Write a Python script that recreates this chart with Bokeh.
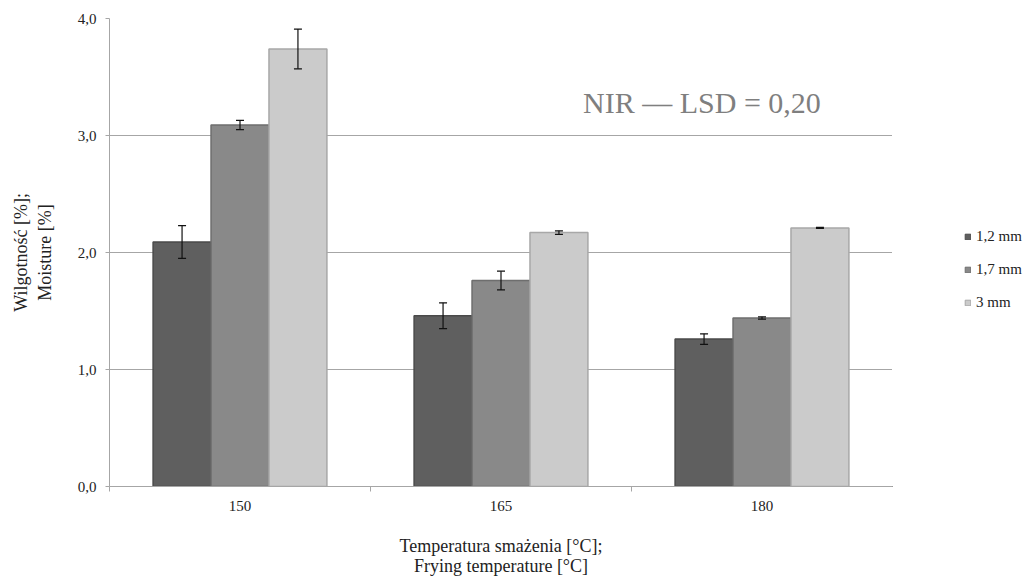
from bokeh.plotting import figure
from bokeh.layouts import row
from bokeh.models import (ColumnDataSource, Range1d, FixedTicker, Whisker, Label,
                          Legend, LegendItem)
from bokeh.transform import dodge
from bokeh.embed import file_html
from bokeh.resources import INLINE

categories = ["150", "165", "180"]
series_names = ["1,2 mm", "1,7 mm", "3 mm"]
v_12 = [2.09, 1.46, 1.26]
v_17 = [3.09, 1.76, 1.44]
v_3 = [3.74, 2.17, 2.21]
e_12 = [0.14, 0.11, 0.045]
e_17 = [0.04, 0.08, 0.01]
e_3 = [0.17, 0.015, 0.005]
y_ticks = [0, 1, 2, 3, 4]
y_tick_labels = ["0,0", "1,0", "2,0", "3,0", "4,0"]
annotation = "NIR \u2014 LSD = 0,20"

colors = ["#5f5f5f", "#898989", "#cbcbcb"]
edges = ["#4a4a4a", "#6e6e6e", "#a8a8a8"]
FONT = "Liberation Serif"

xc = [i + 0.5 for i in range(len(categories))]
data = dict(x=xc)
for k, (v, e) in enumerate([(v_12, e_12), (v_17, e_17), (v_3, e_3)]):
    data[f"v{k}"] = v
    data[f"lo{k}"] = [a - b for a, b in zip(v, e)]
    data[f"hi{k}"] = [a + b for a, b in zip(v, e)]
src = ColumnDataSource(data)

p = figure(frame_width=783, frame_height=468, output_backend="svg",
           toolbar_location=None,
           x_range=Range1d(0, len(categories)), y_range=Range1d(0, 4),
           min_border_left=109, min_border_right=0, min_border_top=18,
           min_border_bottom=92)
p.outline_line_color = None
p.background_fill_color = "white"
p.border_fill_color = "white"

bw = 0.222
offsets = [-bw, 0.0, bw]
for k in range(3):
    p.vbar(x=dodge("x", offsets[k], range=p.x_range), top=f"v{k}", width=bw,
           bottom=0, source=src, fill_color=colors[k], line_color=edges[k],
           line_width=1.5)
    w = Whisker(source=src, base=dodge("x", offsets[k], range=p.x_range),
                upper=f"hi{k}", lower=f"lo{k}", line_color="#111111",
                line_width=1.2, level="overlay")
    w.upper_head.size = 8
    w.lower_head.size = 8
    w.upper_head.line_color = "#111111"
    w.lower_head.line_color = "#111111"
    w.upper_head.line_width = 1.2
    w.lower_head.line_width = 1.2
    p.add_layout(w)

p.add_layout(Label(x=2.27, y=3.28, text=annotation, text_font=FONT,
                   text_font_size="30px", text_color="#7f7f7f",
                   text_align="center", text_baseline="middle"))

# y axis
p.yaxis.ticker = FixedTicker(ticks=y_ticks)
p.yaxis.major_label_overrides = {t: l for t, l in zip(y_ticks, y_tick_labels)}
p.yaxis.minor_tick_line_color = None
p.yaxis.major_tick_in = 0
p.yaxis.major_tick_out = 4
p.yaxis.axis_line_color = "#a6a6a6"
p.yaxis.major_tick_line_color = "#a6a6a6"
p.yaxis.major_label_text_font = FONT
p.yaxis.major_label_text_font_size = "15px"
p.yaxis.major_label_text_color = "#222222"
p.yaxis.major_label_standoff = 9
p.yaxis.axis_label = "Wilgotno\u015b\u0107 [%];\nMoisture [%]"
p.yaxis.axis_label_text_font = FONT
p.yaxis.axis_label_text_font_size = "18px"
p.yaxis.axis_label_text_font_style = "normal"
p.yaxis.axis_label_text_color = "#222222"
p.yaxis.axis_label_text_line_height = 1.2
p.yaxis.axis_label_standoff = 20

# x axis
p.xaxis.ticker = FixedTicker(ticks=xc, minor_ticks=list(range(len(categories) + 1)))
p.xaxis.major_label_overrides = {x: c for x, c in zip(xc, categories)}
p.xaxis.major_tick_line_color = None
p.xaxis.minor_tick_in = 0
p.xaxis.minor_tick_out = 5
p.xaxis.minor_tick_line_color = "#a6a6a6"
p.xaxis.axis_line_color = "#a6a6a6"
p.xaxis.major_label_text_font = FONT
p.xaxis.major_label_text_font_size = "15px"
p.xaxis.major_label_text_color = "#222222"
p.xaxis.major_label_standoff = 8
p.xaxis.axis_label = "Temperatura sma\u017cenia [\u00b0C];\nFrying temperature [\u00b0C]"
p.xaxis.axis_label_text_font = FONT
p.xaxis.axis_label_text_font_size = "18px"
p.xaxis.axis_label_text_font_style = "normal"
p.xaxis.axis_label_text_color = "#222222"
p.xaxis.axis_label_text_line_height = 1.0
p.xaxis.axis_label_standoff = 22

p.xgrid.grid_line_color = None
p.ygrid.ticker = FixedTicker(ticks=y_ticks[1:])
p.ygrid.grid_line_color = "#a6a6a6"

# legend panel (separate figure to the right of the plot)
q = figure(width=137, height=578, output_backend="svg", toolbar_location=None,
           x_range=Range1d(10, 11), y_range=Range1d(10, 11),
           x_axis_location=None, y_axis_location=None,
           min_border_left=0, min_border_right=0, min_border_top=0,
           min_border_bottom=0)
q.outline_line_color = None
q.grid.grid_line_color = None
q.background_fill_color = "white"
q.border_fill_color = "white"
items = []
for k in range(3):
    r = q.vbar(x=dodge("x", offsets[k], range=q.x_range), top=f"v{k}", width=bw,
               bottom=0, source=src, fill_color=colors[k], line_color=edges[k],
               line_width=1)
    items.append(LegendItem(label=series_names[k], renderers=[r]))

legend = Legend(items=items, location=(72, 175), border_line_color=None,
                background_fill_alpha=0, label_text_font=FONT,
                label_text_font_size="15px", label_text_color="#222222",
                glyph_width=7, glyph_height=7, label_height=16, spacing=16,
                margin=0, padding=0, label_standoff=5)
q.add_layout(legend)

layout = row(p, q, spacing=0)
open("out.html", "w").write(file_html(layout, INLINE))
